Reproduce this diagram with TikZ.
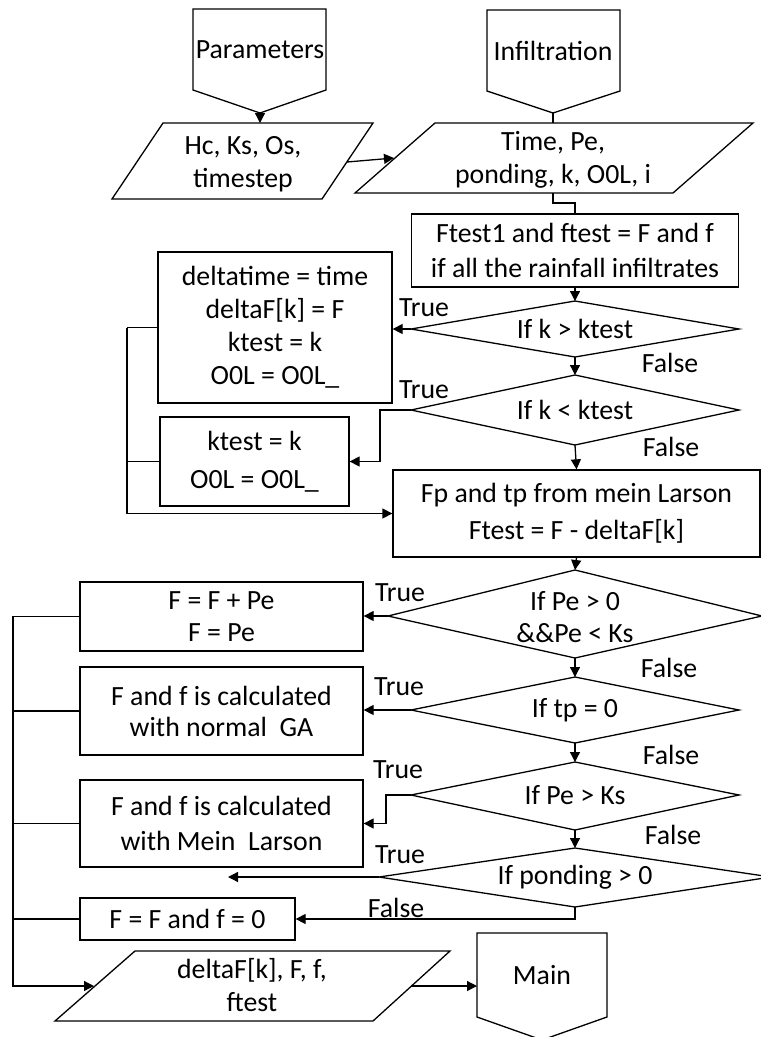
\documentclass[tikz,border=0pt]{standalone}
\usepackage{fontspec}
\setmainfont{Carlito}
\usetikzlibrary{arrows.meta,calc}
\newcommand\flowfont{\fontsize{27.8pt}{33pt}\selectfont}
\begin{document}
\begin{tikzpicture}[x=1pt,y=-1pt,
  ln/.style={line width=1.3pt, draw=black},
  arr/.style={ln, -{Triangle[length=10pt,width=10pt]}},
  shp/.style={line width=1.3pt, draw=black, fill=white},
  box/.style={shp, rectangle, inner sep=0pt, align=center, font=\flowfont},
  txt/.style={inner sep=0pt, align=center, font=\flowfont},
]
\useasboundingbox (0,0) rectangle (761,1037);

% ---------- off-page connectors at the top ----------
\draw[shp] (193,9) -- (326,9) -- (326,90) -- (260,113) -- (193,90) -- cycle;
\node[txt] (param) at (260,50) {Parameters};
\coordinate (paramTip) at (260,113);

\draw[shp] (487,10) -- (620,10) -- (620,91) -- (553,113) -- (487,91) -- cycle;
\node[txt] (infil) at (553,51) {Infiltration};
\coordinate (infilTip) at (553,113);

% ---------- input parallelograms ----------
\draw[shp] (163,123) -- (373,123) -- (322,199) -- (112,199) -- cycle;
\node[txt] (inpar) at (243,164) {Hc, Ks, Os,\\timestep};
\coordinate (inparTop) at (260,123);
\coordinate (inparR) at (347,162);

\draw[shp] (435,123) -- (753,123) -- (673,193) -- (355,193) -- cycle;
\node[txt] (intime) at (553,160) {Time, Pe,\\ponding, k, O0L, i};
\coordinate (intimeTop) at (553,123);
\coordinate (intimeL) at (394,158);
\coordinate (intimeBot) at (553,193);

% ---------- process boxes ----------
\node[box, minimum width=327pt, minimum height=73pt,
      font={\fontsize{27.8pt}{35pt}\selectfont}] (ftest) at (575,250.5)
  {Ftest1 and ftest = F and f\\if all the rainfall infiltrates};
\node[box, minimum width=234pt, minimum height=151pt] (dt) at (275,327.5)
  {deltatime = time\\deltaF[k] = F\\ktest = k\\O0L = O0L\_};
\node[box, minimum width=189pt, minimum height=89pt,
      font={\fontsize{27.8pt}{38pt}\selectfont}] (kt) at (254.5,461.5)
  {ktest = k\\O0L = O0L\_};
\node[box, minimum width=367pt, minimum height=87pt,
      font={\fontsize{27.8pt}{37pt}\selectfont}] (fp) at (576.5,513.5)
  {Fp and tp from mein Larson\\Ftest = F - deltaF[k]};
\node[box, minimum width=283pt, minimum height=69pt,
      font={\fontsize{27.8pt}{32pt}\selectfont}] (b1) at (221.5,616.5)
  {F = F + Pe\\F = Pe};
\node[box, minimum width=283pt, minimum height=88pt,
      font={\fontsize{27.8pt}{31pt}\selectfont}] (b2) at (221.5,711)
  {F and f is calculated\\with normal\ \ GA};
\node[box, minimum width=283pt, minimum height=87pt,
      font={\fontsize{27.8pt}{35pt}\selectfont}] (b3) at (221.5,823.5)
  {F and f is calculated\\with Mein\ \ Larson};
\node[box, minimum width=215pt, minimum height=42pt] (b4) at (187.5,919)
  {F = F and f = 0};

% ---------- decisions ----------
\draw[shp] (575,301) -- (739,329) -- (575,357) -- (411,329) -- cycle;
\node[txt] (d1) at (575,329) {If k > ktest};
\coordinate (d1t) at (575,301); \coordinate (d1l) at (411,329); \coordinate (d1b) at (575,357);

\draw[shp] (575,375) -- (739,410) -- (575,445) -- (411,410) -- cycle;
\node[txt] (d2) at (575,410) {If k < ktest};
\coordinate (d2t) at (575,375); \coordinate (d2l) at (411,410); \coordinate (d2b) at (575,445);

\draw[shp] (575,570) -- (762,616) -- (575,658) -- (388,616) -- cycle;
\node[txt, font={\fontsize{27.8pt}{32pt}\selectfont}] (d3) at (575,617) {If Pe > 0\\\&\&Pe < Ks};
\coordinate (d3t) at (575,570); \coordinate (d3l) at (388,616); \coordinate (d3b) at (575,658);

\draw[shp] (575,677) -- (739,710) -- (575,743) -- (411,710) -- cycle;
\node[txt] (d4) at (575,710) {If tp = 0};
\coordinate (d4t) at (575,677); \coordinate (d4l) at (411,710); \coordinate (d4b) at (575,743);

\draw[shp] (575,762) -- (739,795) -- (575,830) -- (411,795) -- cycle;
\node[txt] (d5) at (575,795) {If Pe > Ks};
\coordinate (d5t) at (575,762); \coordinate (d5l) at (411,795); \coordinate (d5b) at (575,830);

\draw[shp] (575,848) -- (771,877) -- (575,907) -- (379,877) -- cycle;
\node[txt] (d6) at (575,877) {If ponding > 0};
\coordinate (d6t) at (575,848); \coordinate (d6l) at (379,877); \coordinate (d6b) at (575,907);
\coordinate (trueEnd) at (228,877);

% ---------- output and exit ----------
\draw[shp] (135,951) -- (450,951) -- (373,1021) -- (55,1021) -- cycle;
\node[txt] (out) at (252,985) {deltaF[k], F, f,\\ftest};
\coordinate (outL) at (94,986);
\coordinate (outR) at (411,986);

\draw[shp] (477,933) -- (607,933) -- (607,1017) -- (542,1040) -- (477,1017) -- cycle;
\node[txt] (main) at (542,975) {Main};
\coordinate (mainL) at (477,986);

% ---------- connectors ----------
\draw[arr] (paramTip) -- (inparTop);
\draw[ln] (infilTip) -- (intimeTop);
\draw[arr] (inparR) -- (intimeL);
\draw[ln] (intimeBot) -- ++(0,10) -| (ftest.north);
\draw[arr] (ftest.south) -- (d1t);
\draw[arr] (d1l) -- (d1l -| dt.east);
\draw[arr] (d1b) -- (d2t);
\draw[arr] (d2l) -- ++(-31,0) |- (kt.east);
\draw[arr] (d2b) -- (fp.north);

\coordinate (fbx) at (127,0);
\draw[ln] (dt.west) -- (dt.west -| fbx);
\draw[ln] (kt.west) -- (kt.west -| fbx);
\draw[arr] (dt.west -| fbx) |- (fp.west);

\draw[arr] (fp.south) -- (d3t);
\draw[arr] (d3l) -- (d3l -| b1.east);
\draw[arr] (d3b) -- (d4t);
\draw[arr] (d4l) -- (d4l -| b2.east);
\draw[arr] (d4b) -- (d5t);
\draw[arr] (d5l) -- ++(-25,0) |- (b3.east);
\draw[arr] (d5b) -- (d6t);
\draw[arr] (d6l) -- (trueEnd);
\draw[arr] (d6b) |- (b4.east);

\coordinate (bus) at (13,0);
\draw[ln] (b2.west) -- (b2.west -| bus);
\draw[ln] (b3.west) -- (b3.west -| bus);
\draw[ln] (b4.west) -- (b4.west -| bus);
\draw[arr] (b1.west) -- (b1.west -| bus) |- (outL);
\draw[arr] (outR) -- (mainL);

% ---------- branch labels ----------
\node[txt] (t1) at (424,308) {True};
\node[txt] (f1) at (670,363) {False};
\node[txt] (t2) at (424,390) {True};
\node[txt] (f2) at (671,447) {False};
\node[txt] (t3) at (400,593) {True};
\node[txt] (f3) at (669,668) {False};
\node[txt] (t4) at (399,687) {True};
\node[txt] (f4) at (671,755) {False};
\node[txt] (t5) at (398,770) {True};
\node[txt] (f5) at (673,835) {False};
\node[txt] (t6) at (400,855) {True};
\node[txt] (f6) at (396,908) {False};
\end{tikzpicture}
\end{document}
